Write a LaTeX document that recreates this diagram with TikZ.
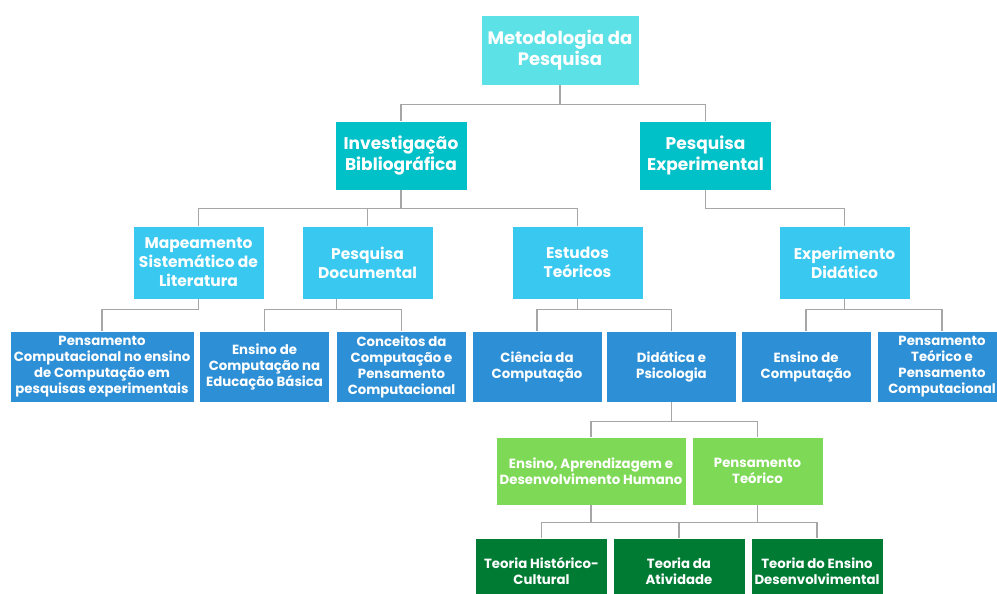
\documentclass[tikz,border=0pt]{standalone}
\usepackage{fontspec}
\setmainfont{Poppins}
\usetikzlibrary{positioning, calc}

\definecolor{raiz}{HTML}{5CE1E6}
\definecolor{nivelA}{HTML}{00C0C8}
\definecolor{nivelB}{HTML}{38C8F0}
\definecolor{nivelC}{HTML}{2D8FD6}
\definecolor{verdeA}{HTML}{7ED957}
\definecolor{verdeB}{HTML}{007B34}
\definecolor{linha}{HTML}{A6A6A6}

\tikzset{
  caixa/.style={fill=#1, draw=white, line width=0.6pt, text=white,
    align=center, inner sep=0pt},
  topo/.style={caixa=raiz, minimum width=158, minimum height=70,
    font=\fontsize{18}{21}\selectfont\bfseries},
  grupo/.style={caixa=nivelA, minimum width=132, minimum height=69,
    font=\fontsize{17}{21}\selectfont\bfseries},
  metodo/.style={caixa=nivelB, minimum width=131, minimum height=73,
    font=\fontsize{15.5}{19}\selectfont\bfseries},
  tema/.style={caixa=nivelC, minimum width=130, minimum height=71,
    font=\fontsize{13.3}{16}\selectfont\bfseries},
  teoria/.style={caixa=verdeA, minimum width=131, minimum height=68,
    font=\fontsize{13.3}{16}\selectfont\bfseries},
  base/.style={caixa=verdeB, minimum width=132, minimum height=66,
    font=\fontsize{13.3}{16}\selectfont\bfseries},
  liga/.style={draw=linha, line width=1.3pt}
}

\begin{document}
\begin{tikzpicture}[x=1pt, y=-1pt]
  \useasboundingbox (0,0) rectangle (997,594);
  \fill[white] (0,0) rectangle (997,594);

  %% raiz
  \node[topo] (met) at (560,50) {Metodologia da\\Pesquisa};

  %% segundo nivel
  \node[grupo] (inv) at (401,155.5) {Investigação\\Bibliográfica};
  \node[grupo] (pexp) at (705.5,155.5) {Pesquisa\\Experimental};

  %% terceiro nivel
  \node[metodo] (map) at (198.5,262.5) {Mapeamento\\Sistemático de\\Literatura};
  \node[metodo] (doc) at (367.5,262.5) {Pesquisa\\Documental};
  \node[metodo] (est) at (577.5,262.5) {Estudos\\Teóricos};
  \node[metodo] (expd) at (844.5,262.5) {Experimento\\Didático};

  %% quarto nivel
  \node[tema, minimum width=184] (pc) at (102,366.5)
    {Pensamento\\Computacional no ensino\\de Computação em\\pesquisas experimentais};
  \node[tema] (ensb) at (264.5,366.5) {Ensino de\\Computação na\\Educação Básica};
  \node[tema] (conc) at (401.5,366.5) {Conceitos da\\Computação e\\Pensamento\\Computacional};
  \node[tema] (cc) at (537,366.5) {Ciência da\\Computação};
  \node[tema] (did) at (671.5,366.5) {Didática e\\Psicologia};
  \node[tema] (encomp) at (806,366.5) {Ensino de\\Computação};
  \node[tema] (ptpc) at (942,366.5) {Pensamento\\Teórico e\\Pensamento\\Computacional};

  %% teorias
  \node[teoria, minimum width=190] (eadh) at (591,471)
    {Ensino, Aprendizagem e\\Desenvolvimento Humano};
  \node[teoria] (pt) at (757.5,471) {Pensamento\\Teórico};

  \node[base] (thc) at (541.5,571) {Teoria Histórico-\\Cultural};
  \node[base] (ta) at (679,571) {Teoria da\\Atividade};
  \node[base] (tesd) at (817,571) {Teoria do Ensino\\Desenvolvimental};

  %% ligacoes
  \draw[liga] (met.south) -- ++(0,19) coordinate (r0) -| (inv.north);
  \draw[liga] (r0) -| (pexp.north);

  \draw[liga] (inv.south) -- ++(0,18) coordinate (r1) -| (map.north);
  \draw[liga] (r1) -| (doc.north);
  \draw[liga] (r1) -| (est.north);
  \draw[liga] (pexp.south) -- ++(0,18) coordinate (r2) -| (expd.north);

  \draw[liga] (map.south) -- ++(0,10) coordinate (r3) -| (pc.north);
  \draw[liga] (doc.south -| conc.west) -- ++(0,10) coordinate (r4) -| (ensb.north);
  \draw[liga] (r4) -| (conc.north);
  \draw[liga] (est.south) -- ++(0,10) coordinate (r5) -| (cc.north);
  \draw[liga] (r5) -| (did.north);
  \draw[liga] (expd.south) -- ++(0,10) coordinate (r6) -| (encomp.north);
  \draw[liga] (r6) -| (ptpc.north);

  \draw[liga] (did.south) -- ++(0,19) coordinate (r7) -| (eadh.north);
  \draw[liga] (r7) -| (pt.north);

  \draw[liga] (eadh.south) -- ++(0,17) coordinate (r8) -| (thc.north);
  \draw[liga] (pt.south) -- ++(0,17) coordinate (r9) -| (tesd.north);
  \draw[liga] (r8) -- (r9);
  \draw[liga] (ta.north) -- (ta.north |- r8);
\end{tikzpicture}
\end{document}
